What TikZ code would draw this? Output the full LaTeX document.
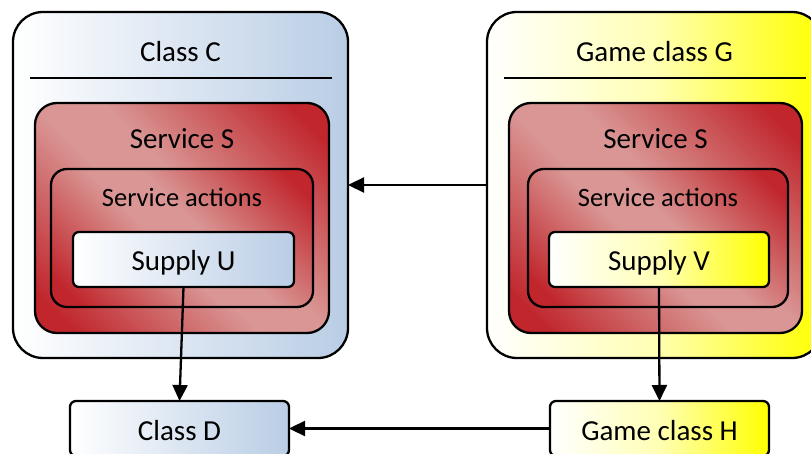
\documentclass[tikz,border=0pt]{standalone}
\usepackage{fontspec}
\setmainfont{Carlito}
\usetikzlibrary{arrows.meta}

\definecolor{bluef}{HTML}{B9CDE5}
\definecolor{ymid}{HTML}{FFFFB4}
\definecolor{rdark}{HTML}{C0262C}
\definecolor{rlight}{HTML}{D99694}

% fills: white-to-blue, white-to-yellow, and a diagonal red band
\pgfdeclarehorizontalshading{bluefade}{100bp}{color(0bp)=(white); color(25bp)=(white); color(75bp)=(bluef); color(100bp)=(bluef)}
\pgfdeclarehorizontalshading{yellowfade}{100bp}{color(0bp)=(white); color(25bp)=(white); color(50bp)=(ymid); color(75bp)=(yellow); color(100bp)=(yellow)}
\pgfdeclareverticalshading{redband}{100bp}{color(0bp)=(rdark); color(20bp)=(rdark); color(45bp)=(rlight); color(55bp)=(rlight); color(80bp)=(rdark); color(100bp)=(rdark)}

\tikzset{
  box/.style={draw, line width=2.3pt, inner sep=0pt, outer sep=0pt, shade},
  outerbox/.style={box, rounded corners=30pt},
  servbox/.style={box, rounded corners=22pt, shading=redband, shading angle=-45},
  actbox/.style={box, rounded corners=16pt, shading=redband, shading angle=-45},
  smallbox/.style={box, rounded corners=6pt},
  blue fill/.style={shading=bluefade},
  yellow fill/.style={shading=yellowfade},
  lbl/.style={anchor=base, inner sep=0pt, font=\fontsize{29}{34}\selectfont},
  lblsmall/.style={anchor=base, inner sep=0pt, font=\fontsize{26.5}{31}\selectfont},
  conn/.style={line width=2.3pt, -{Triangle[length=16pt,width=15pt]}},
  rule/.style={line width=2.3pt}
}

\begin{document}
\begin{tikzpicture}[x=1pt,y=-1pt]
\path[use as bounding box] (0,0) rectangle (811,454);
\clip (0,0) rectangle (811,454);

% left class with its service
\node[outerbox, blue fill, minimum width=335pt, minimum height=346pt] (C) at (180.5,185) {};
\node[servbox, minimum width=294pt, minimum height=230pt] (SC) at (182,218) {};
\node[actbox, minimum width=262pt, minimum height=138pt] (AC) at (182,238) {};
\node[smallbox, blue fill, minimum width=221pt, minimum height=55pt] (U) at (183.5,259.5) {};
\draw[rule] (30,78) -- (332,78);

\node[lbl] (tC) at (180.5,62) {Class C};
\node[lbl] (tSC) at (182,149) {Service S};
\node[lblsmall] (tAC) at (182,207) {Service actions};
\node[lbl] (tU) at (183.5,271) {Supply U};

% right game class with its service
\node[outerbox, yellow fill, minimum width=335pt, minimum height=346pt] (G) at (654.5,185) {};
\node[servbox, minimum width=293pt, minimum height=230pt] (SG) at (655.5,218) {};
\node[actbox, minimum width=260pt, minimum height=138pt] (AG) at (658,238) {};
\node[smallbox, yellow fill, minimum width=220pt, minimum height=55pt] (V) at (659,259.5) {};
\draw[rule] (504,78) -- (806,78);

\node[lbl] (tG) at (654.5,62) {Game class G};
\node[lbl] (tSG) at (655.5,149) {Service S};
\node[lblsmall] (tAG) at (658,207) {Service actions};
\node[lbl] (tV) at (659,271) {Supply V};

% bottom classes
\node[smallbox, blue fill, minimum width=219pt, minimum height=55pt] (D) at (179.5,428.5) {};
\node[smallbox, yellow fill, minimum width=219pt, minimum height=55pt] (H) at (659.5,428.5) {};
\node[lbl] (tD) at (179.5,440) {Class D};
\node[lbl] (tH) at (659.5,440) {Game class H};

% connectors
\draw[conn] (G.west) -- (C.east);
\draw[conn] (U.south) -- (D.north);
\draw[conn] (V.south) -- (H.north);
\draw[conn] (H.west) -- (D.east);
\end{tikzpicture}
\end{document}
